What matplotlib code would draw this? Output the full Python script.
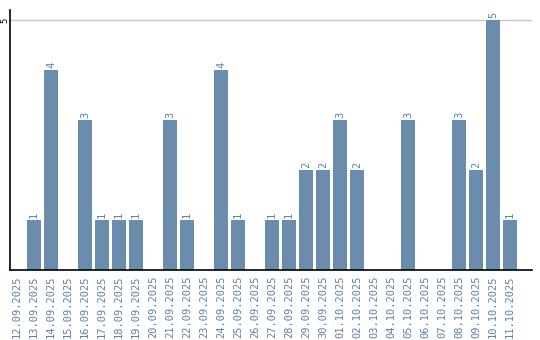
import matplotlib
matplotlib.use('Agg')
import matplotlib.pyplot as plt

# Даты и количество
dates = ['12.09.2025', '13.09.2025', '14.09.2025', '15.09.2025', '16.09.2025',
         '17.09.2025', '18.09.2025', '19.09.2025', '20.09.2025', '21.09.2025',
         '22.09.2025', '23.09.2025', '24.09.2025', '25.09.2025', '26.09.2025',
         '27.09.2025', '28.09.2025', '29.09.2025', '30.09.2025', '01.10.2025',
         '02.10.2025', '03.10.2025', '04.10.2025', '05.10.2025', '06.10.2025',
         '07.10.2025', '08.10.2025', '09.10.2025', '10.10.2025', '11.10.2025']
counts = [0, 1, 4, 0, 3, 1, 1, 1, 0, 3,
          1, 0, 4, 1, 0, 1, 1, 2, 2, 3,
          2, 0, 0, 3, 0, 0, 3, 2, 5, 1]
y_ticks = [5]

BAR_COLOR = '#6a8cad'
TEXT_COLOR = '#5f80a6'

fig = plt.figure(figsize=(5.4, 3.4), dpi=100)
ax = fig.add_axes([10 / 540, 70 / 340, 522 / 540, 260 / 340])

x = list(range(len(dates)))
ax.bar(x, counts, width=0.82, color=BAR_COLOR, zorder=2)

# Подписи значений над столбцами
for xi, c in zip(x, counts):
    if c > 0:
        ax.text(xi, c + 0.04, str(c), rotation=90, ha='center', va='bottom',
                fontsize=7.5, family='DejaVu Sans Mono', color=TEXT_COLOR)

ax.set_xlim(-0.41, 30.3)
ax.set_ylim(0, 5.2)
ax.set_yticks(y_ticks)
ax.set_yticklabels([str(t) for t in y_ticks], rotation=90, va='center',
                   fontsize=6.5, family='DejaVu Sans Mono', color='black')
ax.yaxis.grid(True, color='#c8c8c8', linewidth=1, zorder=0)
ax.set_xticks(x)
ax.set_xticklabels(dates, rotation=90, fontsize=7.5, family='DejaVu Sans Mono',
                   color=TEXT_COLOR, va='top')
ax.tick_params(length=0, pad=4)
ax.tick_params(axis='y', pad=0.5)

for side in ['top', 'right']:
    ax.spines[side].set_visible(False)
for side in ['left', 'bottom']:
    ax.spines[side].set_color('black')
    ax.spines[side].set_linewidth(1.2)

plt.savefig('out.png', dpi=100)
plt.close()
